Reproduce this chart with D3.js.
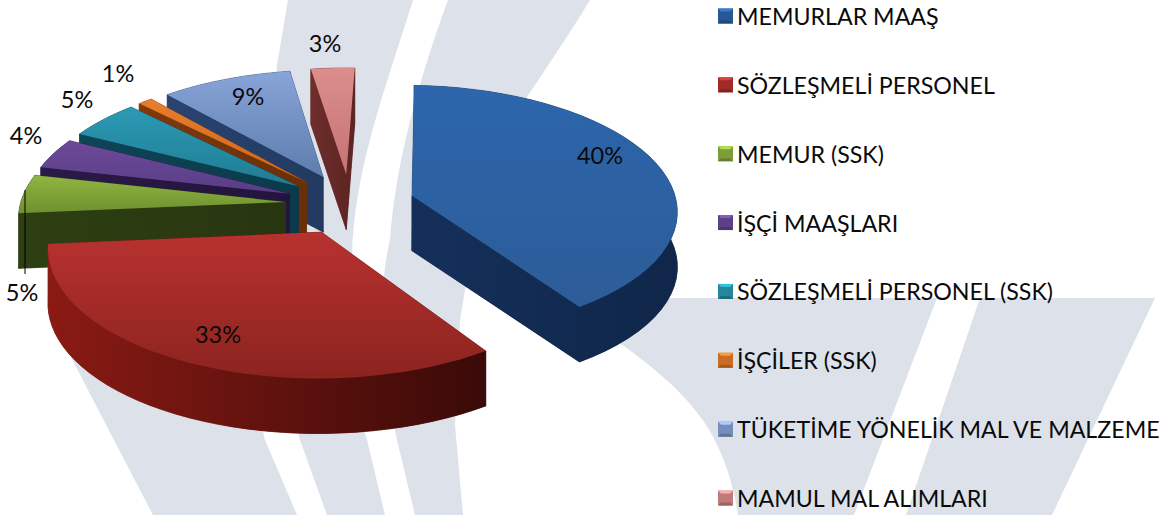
<!DOCTYPE html>
<html><head><meta charset="utf-8">
<script src="https://cdn.jsdelivr.net/npm/d3@7"></script>
<style>html,body{margin:0;padding:0;background:#fff;overflow:hidden}svg{display:block}text{font-family:Lato,"Open Sans",sans-serif;fill:#0a0a0a}</style>
</head><body><svg id="c" width="1164" height="515"></svg>
<script>
const categories=["MEMURLAR MAAŞ","SÖZLEŞMELİ PERSONEL","MEMUR (SSK)","İŞÇİ MAAŞLARI","SÖZLEŞMELİ PERSONEL (SSK)","İŞÇİLER (SSK)","TÜKETİME YÖNELİK MAL VE MALZEME","MAMUL MAL ALIMLARI"];
const values=[40,33,5,4,5,1,9,3];
const labels=["40%","33%","5%","4%","5%","1%","9%","3%"];
const topLight=["#2c66ac","#b8322f","#8fb540","#6c4a9a","#2c9ab4","#e87e2c","#88a4d8","#dc8e8c"];
const topDark=["#2d5c98","#8c231f","#6f9030","#5a3d85","#1f7c94","#d0641c","#5e7cae","#c47472"];
const wallLight=["#14305a","#8a1a14","#2e3f12","#2a1a48","#0e4557","#7f3a0d","#2a4470","#6e2e2c"];
const wallDark=["#10264a","#3a0a08","#283610","#22143c","#0b3a4a","#6a2f08","#223a60","#5c2422"];
const drawOrder=[7,6,5,4,3,2,0,1];
const labelX=[600,218,22,26,77,118,248,325];
const labelY=[155,334,292,135,99,73,96,43];

const svg=d3.select("#c"),W=1164,H=515;
const defs=svg.append("defs");
// watermark
svg.append("g").attr("fill","#dde1ea").selectAll("path").data([
 "M288,0 L413,0 C385,90 350,180 352,270 C352,340 355,400 367,440 L385,515 L327,515 L300,440 L260,300 L277,65Z",
 "M448,0 L590,0 C560,50 530,90 500,140 L465,290 L460,320 L455,425 L463,515 L415,515 L397,440 C385,380 375,300 390,240 C395,170 415,90 448,0Z",
 "M62,340 L153,515 L297,515 L265,440 L240,340Z",
 "M640,298 L937,298 L854,515 L738,515 C733,480 720,440 695,410 C675,385 650,365 620,343Z",
 "M980,298 L1155,298 L1052,515 L906,515Z"
]).join("path").attr("d",d=>d);

const rot=2*Math.PI/180;
const pie=d3.pie().sort(null).value(d=>d).startAngle(rot).endAngle(2*Math.PI+rot);
const arcs=pie(values);
const cx=350,cy=204,Rx=265,Ry=124,k=0.108,ex=0.245,depth=55;
const sx=d3.scaleLinear().domain([-1,1]).range([cx-Rx,cx+Rx]);
const sy=d3.scaleLinear().domain([-1,1]).range([cy-Ry,cy+Ry]);
function proj(u,v,z){const s=1/(1-k*v);return [cx+(sx(u)-cx)*s,cy+(sy(v)-cy)*s+z];}
function outline(a,z){
 const m=(a.startAngle+a.endAngle)/2,ou=ex*Math.sin(m),ov=-ex*Math.cos(m);
 const pts=[proj(ou,ov,z)];
 d3.range(0,41).forEach(i=>{const t=a.startAngle+(a.endAngle-a.startAngle)*i/40;pts.push(proj(ou+Math.sin(t),ov-Math.cos(t),z));});
 return pts;
}
const line=d3.line();
function grad(id,c1,c2,x1,y1,x2,y2){
 const g=defs.append("linearGradient").attr("id",id).attr("gradientUnits","userSpaceOnUse")
  .attr("x1",x1).attr("x2",x2).attr("y1",y1).attr("y2",y2);
 g.append("stop").attr("offset",0).attr("stop-color",c1);
 g.append("stop").attr("offset",1).attr("stop-color",c2);
}
drawOrder.forEach(i=>{
 const a=arcs[i];
 const t=outline(a,0),b=outline(a,depth),g=svg.append("g");
 grad("t"+i,topLight[i],topDark[i],0,d3.min(t,d=>d[1]),0,d3.max(t,d=>d[1]));
 grad("w"+i,wallLight[i],wallDark[i],d3.min(t,d=>d[0]),0,d3.max(t,d=>d[0]),0);
 const n=t.length;
 const bands=[[t[0],t[1],b[1],b[0]],[t[0],t[n-1],b[n-1],b[0]],t.slice(1).concat(b.slice(1).reverse()),b];
 bands.forEach(q=>g.append("path").attr("d",line(q)+"Z").attr("fill",`url(#w${i})`).attr("stroke",`url(#w${i})`).attr("stroke-width",.5));
 g.append("path").attr("d",line(t)+"Z").attr("fill",`url(#t${i})`);
});
svg.append("line").attr("x1",25).attr("x2",25).attr("y1",190).attr("y2",274).attr("stroke","#000").attr("stroke-width",1);
svg.append("g").selectAll("text").data(labels).join("text")
 .attr("x",(d,i)=>labelX[i]).attr("y",(d,i)=>labelY[i]).attr("text-anchor","middle").attr("dominant-baseline","central")
 .attr("font-size",23.5).text(d=>d);

const ly=d3.scalePoint().domain(categories).range([16,498]);
categories.forEach((c,i)=>{
 const y=ly(c),x0=718,s=15,g=svg.append("g");
 const col=d3.color(topLight[i]);
 g.append("rect").attr("x",x0).attr("y",y-s/2).attr("width",s).attr("height",s).attr("fill",col.darker(.4));
 g.append("path").attr("d",`M${x0},${y-s/2}h${s}l-3,3h${-s+6}Z`).attr("fill",col.brighter(.6));
 g.append("path").attr("d",`M${x0},${y+s/2}h${s}l-3,-3h${-s+6}Z`).attr("fill",col.darker(1));
 g.append("text").attr("x",737).attr("y",y).attr("dominant-baseline","central").attr("font-size",23.2).text(c);
});
</script></body></html>
